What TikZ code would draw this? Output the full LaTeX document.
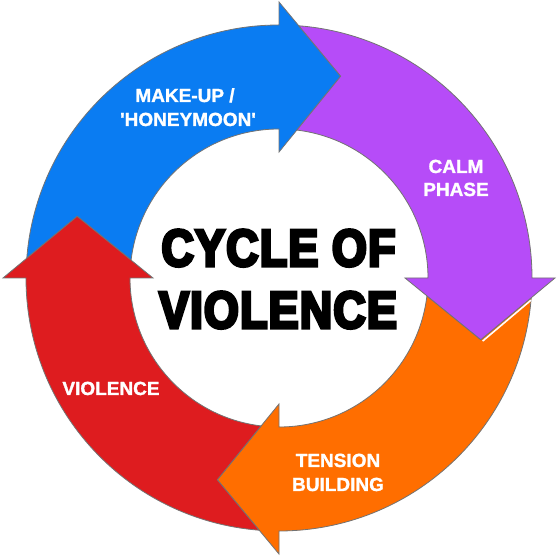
\documentclass[tikz,border=0pt]{standalone}
\usepackage{fontspec}
\setmainfont{Liberation Sans}
\newfontfamily\titlefont{Liberation Sans Bold}[FakeBold=6,FakeStretch=0.86,LetterSpace=2.5]
\newfontfamily\labelfont{Liberation Sans Bold}[FakeBold=1.4]
\definecolor{cblue}{RGB}{10,124,242}
\definecolor{cpurple}{RGB}{182,76,248}
\definecolor{corange}{RGB}{255,110,0}
\definecolor{cred}{RGB}{222,28,31}
\tikzset{
  seg/.style={draw=black!55, line width=0.8pt, line join=miter},
  ttl/.style={anchor=base, font=\titlefont\fontsize{52}{62}\selectfont, text=black, inner sep=0pt},
  lbl/.style={anchor=base, font=\labelfont\fontsize{19}{23}\selectfont, text=white, inner sep=0pt},
}
% #1 colour, #2 tail angle, #3 head base angle
\newcommand\cyclearrow[3]{%
  \filldraw[seg, fill=#1]
    ({#2-4.5}:253pt) arc[start angle={#2-4.5}, end angle={#3}, radius=253pt]
    -- ({#3}:276pt) -- ({#3-17}:211pt) -- ({#3}:126pt) -- ({#3}:149pt)
    arc[start angle={#3}, end angle={#2-6.9}, radius=149pt]
    -- ({#2-17}:211pt) -- cycle;}
\begin{document}
\begin{tikzpicture}
\useasboundingbox (0pt,0pt) rectangle (558pt,557pt);
\fill[white] (0pt,0pt) rectangle (558pt,557pt);
\begin{scope}[shift={(279pt,279pt)}]
  \cyclearrow{cblue}{180}{90}
  \cyclearrow{corange}{0}{-90}
  \cyclearrow{cpurple}{90}{0}
  \cyclearrow{cred}{-90}{-180}
  \draw[white, line width=1.6pt, shift={(0.9pt,-1.1pt)}] ({-17}:212pt) -- ({-4.8}:252pt);
\end{scope}
\node[ttl] (title1) at (278.5pt,291pt) {CYCLE OF};
\node[ttl] (title2) at (278pt,229pt) {VIOLENCE};
\node[lbl] (make1) at (185pt,455pt) {MAKE-UP /};
\node[lbl] (make2) at (188pt,431pt) {\textquotesingle HONEYMOON\textquotesingle};
\node[lbl] (calm1) at (456pt,384pt) {CALM};
\node[lbl] (calm2) at (456pt,361pt) {PHASE};
\node[lbl] (viol) at (111pt,162pt) {VIOLENCE};
\node[lbl] (tens1) at (338pt,90pt) {TENSION};
\node[lbl] (tens2) at (338pt,66pt) {BUILDING};
\end{tikzpicture}
\end{document}
